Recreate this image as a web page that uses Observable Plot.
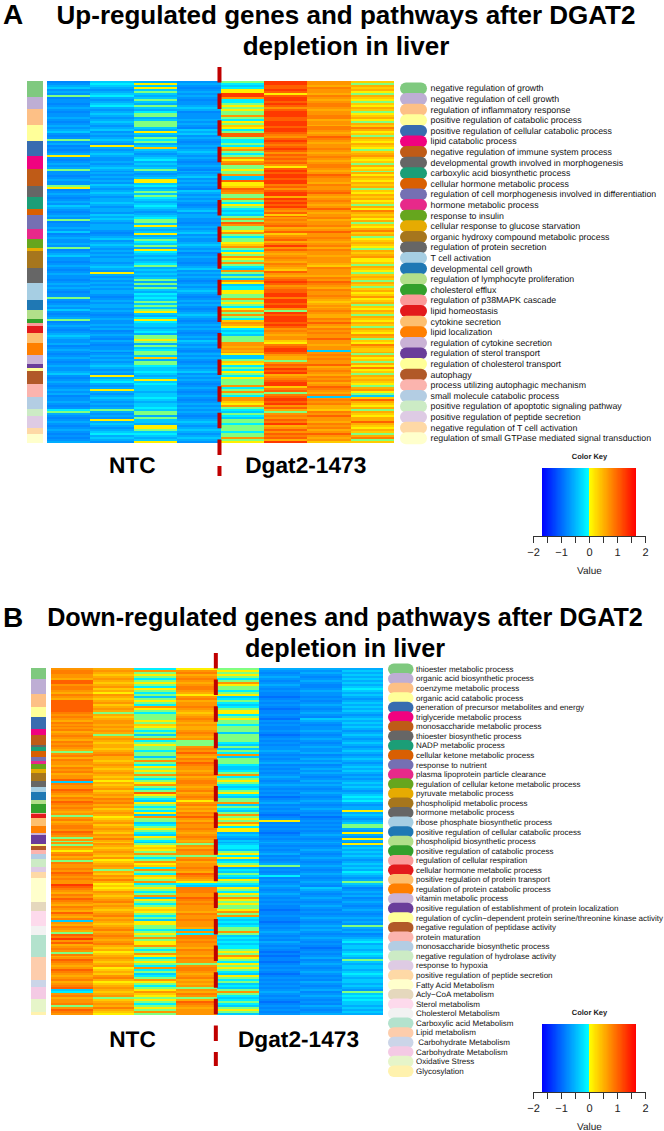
<!DOCTYPE html>
<html>
<head>
<meta charset="utf-8">
<script src="https://cdn.jsdelivr.net/npm/d3@7"></script>
<script src="https://cdn.jsdelivr.net/npm/@observablehq/plot@0.6"></script>
<style>
html,body{margin:0;padding:0;background:#fff;overflow:hidden}
#page{position:relative;width:664px;height:1131px;font-family:"Liberation Sans",Arial,sans-serif;color:#000}
#page>*{position:absolute}
#page svg{background:transparent;max-width:none;text-rendering:geometricPrecision}
.t{font-weight:bold;white-space:nowrap;transform:translateX(-50%);line-height:28px;letter-spacing:0}
.p{font-weight:bold;font-size:28px;line-height:30px}
</style>
</head>
<body>
<div id="page"></div>
<script>
// value codes used by the heat-map strings below, one character per gene row
const codes = "abcdefghijklmn";
const codeValues = [-0.95,-0.8,-0.7,-0.55,-0.35,-0.12,0,0.12,0.35,0.55,0.7,0.85,1.05,1.3];

const palette = ["#7FC97F","#BEAED4","#FDC086","#FFFF99","#386CB0","#F0027F","#BF5B17","#666666",
"#1B9E77","#D95F02","#7570B3","#E7298A","#66A61E","#E6AB02","#A6761D","#666666",
"#A6CEE3","#1F78B4","#B2DF8A","#33A02C","#FB9A99","#E31A1C","#FDBF6F","#FF7F00","#CAB2D6","#6A3D9A","#FFFF99","#B15928",
"#FBB4AE","#B3CDE3","#CCEBC5","#DECBE4","#FED9A6","#FFFFCC","#E5D8BD","#FDDAEC","#F2F2F2",
"#B3E2CD","#FDCDAC","#CBD5E8","#F4CAE4","#E6F5C9","#FFF2AE"];

const upLabels = ["negative regulation of growth","negative regulation of cell growth","regulation of inflammatory response","positive regulation of catabolic process","positive regulation of cellular catabolic process","lipid catabolic process","negative regulation of immune system process","developmental growth involved in morphogenesis","carboxylic acid biosynthetic process","cellular hormone metabolic process","regulation of cell morphogenesis involved in differentiation","hormone metabolic process","response to insulin","cellular response to glucose starvation","organic hydroxy compound metabolic process","regulation of protein secretion","T cell activation","developmental cell growth","regulation of lymphocyte proliferation","cholesterol efflux","regulation of p38MAPK cascade","lipid homeostasis","cytokine secretion","lipid localization","regulation of cytokine secretion","regulation of sterol transport","regulation of cholesterol transport","autophagy","process utilizing autophagic mechanism","small molecule catabolic process","positive regulation of apoptotic signaling pathway","positive regulation of peptide secretion","negative regulation of T cell activation","regulation of small GTPase mediated signal transduction"];
const upSizes = [16.4,11.6,15.7,16.3,14.7,13,17,11.7,11.6,6.4,13.3,10,9.3,3.4,16.3,15.7,16.3,10,9,4,3,7,10,12.7,8.3,4,3.7,13,12.6,11.7,7.7,11.3,6,9.3];

const downLabels = ["thioester metabolic process","organic acid biosynthetic process","coenzyme metabolic process","organic acid catabolic process","generation of precursor metabolites and energy","triglyceride metabolic process","monosaccharide metabolic process","thioester biosynthetic process","NADP metabolic process","cellular ketone metabolic process","response to nutrient","plasma lipoprotein particle clearance","regulation of cellular ketone metabolic process","pyruvate metabolic process","phospholipid metabolic process","hormone metabolic process","ribose phosphate biosynthetic process","positive regulation of cellular catabolic process","phospholipid biosynthetic process","positive regulation of catabolic process","regulation of cellular respiration","cellular hormone metabolic process","positive regulation of protein transport","regulation of protein catabolic process","vitamin metabolic process","positive regulation of establishment of protein localization","regulation of cyclin\u2212dependent protein serine/threonine kinase activity","negative regulation of peptidase activity","protein maturation","monosaccharide biosynthetic process","negative regulation of hydrolase activity","response to hypoxia","positive regulation of peptide secretion","Fatty Acid Metabolism","Acly\u2212CoA metabolism","Sterol metabolism","Cholesterol Metabolism","Carboxylic acid Metabolism","Lipid metabolism","\u00a0Carbohydrate Metabolism","Carbohydrate Metabolism","Oxidative Stress","Glycosylation"];
const downSizes = [10.7,15,13,10,12.7,6,9.6,2,4,6,4,2.7,5,4,8,6,5,8,4.7,8.6,1,3.7,8,7.3,2.4,8.3,2.3,3.7,4,5,8,5,6.3,23.7,9,15,9,22,23,7.3,12,12.7,3.3];

const groupLabels = ["NTC","Dgat2-1473"];
const groupCenters = [2,6];

// up-regulated panel, one string per sample column, read top to bottom
const upN1 = "bcdecdcgbc"+"cbcdcbccdc"+"bcdcdecbcg"+"cdbcbcdhcb"+"cdcdgccbcd"+"ccghbcdcbc"+"dcedcbcdcg"+"bccdcebcdc"+"cdcgbcdecc"+"bcdcbcdccb"+"cdcdcbccgc"+"bcdcecbcdg"+"bcdcbcdedc"+"cdbcdcbcdc"+"bcdccdecbc"+"dcbcdcdbcc"+"dcbcfgdcbc"+"dcbcdcbcbcd";
const upN2 = "efedcdefdc"+"defdcdedcd"+"edcdecdcde"+"dchdcdedcc"+"dcdedcdcdc"+"dcedcdedcd"+"dedcddcede"+"dcdddcbcde"+"cdedcdcdcd"+"dcdedchdcd"+"cdcdcddcbc"+"dcddcdcbcd"+"ccdcdbcdcb"+"dcbccdbcdc"+"dcdedcdchd"+"efdcdhdcde"+"dcdcdgdcdc"+"hdedcdefdedc";
const upN3 = "dhehegedeg"+"edgedfggde"+"gggedhedgf"+"gdeiedcdef"+"dedegdcdeh"+"hefdegegfe"+"defedcdefg"+"gehedehdeg"+"fegdhfeded"+"efgdededeg"+"dgdgedfefe"+"gegeghedfh"+"feedefdggh"+"gdgefggeid"+"ggfeefedeh"+"efeeedeefe"+"deefeggdge"+"edhhgefedeh";
const upN4 = "cdcbcdcdcb"+"ccdedbcccd"+"cdcbedecdc"+"bcdcdedcdc"+"bcdcbdcdec"+"dcdcbedcdc"+"dcbcdecddc"+"cbcdcdecdc"+"cdedcdbcdc"+"cbcdecdcdc"+"bcdcdedcbc"+"dcdcbcdedc"+"bcdcdcbcdc"+"edcdcbcdcd"+"cbcdcdecdc"+"dcbcdcbcdc"+"bcdcdcdcbc"+"dedcdedcdedc";
const upD1 = "gfefhhnnkf"+"fghghggkgf"+"hgihfgmmgf"+"fgfikgfgkh"+"klgghggkee"+"mhhimlkggk"+"gfhgfefegk"+"gmkgghkgfg"+"ghikgfhgkh"+"gkgfekgege"+"kheffhhggk"+"ghgfhkgkgf"+"ikjhfefegg"+"gkkjkjkhee"+"gihfgfhgfh"+"gggkfgkgfk"+"kihkgfegfe"+"ggfgggfggkgh";
const upD2 = "nnmmnmhmnn"+"mnmkmnnnmm"+"nnnmnnmlkm"+"nmlmnmkmlm"+"lmkhmnmnnm"+"nnlmkmnnjn"+"mnmnlkmimk"+"lklmjkmikl"+"mjlnkmkjkl"+"kjlkjimkjl"+"mnmklmmnnl"+"nnmnnkgnmn"+"nnmnmklkjk"+"kihlmnnmkj"+"jgkmlnmnjk"+"lmnnilmglm"+"nnmnkmjgkl"+"kmlnjkmkmlmjn";
const upD3 = "kkjlkkjlkj"+"kllkjkkllj"+"kkjllkjkml"+"kjkklkjklk"+"jkllkjkmlk"+"kjlkklmkjk"+"lkjkmkjkkl"+"jkkljkmkkl"+"kjkljlkkjk"+"kkjilkkkjl"+"kmlkjlkklk"+"jijkjklkjj"+"lkmkjlklkk"+"mkkjkkeklk"+"lkkmjklkjl"+"kljkmlkjle"+"klkljjilkm"+"kkjlkljkmkjki";
const upD4 = "igjijhgjih"+"gihjighijh"+"gjiljhigji"+"hjihgijkih"+"igjhigjhji"+"hjijgihjij"+"higjhljijh"+"jgihjlijgh"+"ijihgjijkh"+"higjihgiji"+"gjigijhikh"+"ijgihjigji"+"hjigjihkjg"+"ihljiijgjh"+"igjhlhigji"+"jihgjkhgei"+"mjihjgjihj"+"jmjihjigjlgi";

// down-regulated panel
const dnN1 = "kllkkjmmkl"+"lkjlkjmmmm"+"mmlklkjlkl"+"kljklkjlkl"+"kjgkljlkkj"+"lkljkkmelk"+"kmlkjlkmlk"+"lkjkgkljkl"+"lkmlkgkgkg"+"kjhkljkglk"+"klkmlklkkn"+"mlkjlkmlkj"+"lkjmkjlekj"+"lkjgmlnkmj"+"klkgljkmlk"+"jkmlkjkljk"+"lmefkljkkl"+"gkmlk";
const dnN2 = "jkjijkjijk"+"ijhkjijkij"+"kjgjijkkjk"+"jkjgjkjijj"+"ijkljjijkj"+"ijkjijhjij"+"kijkjlkljk"+"ijkjhijkij"+"kjikjljikj"+"ijkjikhijk"+"jgjikjljhi"+"hikjijkljk"+"jijkljkjij"+"kljklkjklj"+"ijhijkjijk"+"hijikljhij"+"kjijkgijkj"+"ljih";
const dnN3 = "fkghgfghgf"+"hgfgeghgfk"+"hgfggghgih"+"gfgegkfghg"+"gfggegkgfh"+"ghgkgfghkg"+"fgmhgfehgf"+"gfhekggefg"+"hgfehgfegh"+"ihgkgfgkhi"+"fkgfihgkfg"+"hgfgkehgfg"+"hihgfgehhg"+"gfghgkghhk"+"gfgkhfghgf"+"kfgefgkhgf"+"ghkihghgfg"+"hgkg";
const dnN4 = "hkljklkjkl"+"lkjhkljkkl"+"kjijklkjkj"+"jklkjkgggk"+"lkmkjlkmlk"+"kjkljkllkj"+"kljklkhklj"+"kjlkmkjlkk"+"lkjklkjkgk"+"jlkkgkljkk"+"lkjmlkjhfe"+"lllkkmlklk"+"kkjlkklkkk"+"jekfllklkk"+"jlkkjlkkgk"+"llkjkljkjk"+"gkjlkgjmlk"+"jkkk";
const dnD1 = "ghghgfgkhg"+"gfghefgfef"+"ghhfghggfg"+"ggeggggfeg"+"egfkegggfe"+"efgkfghgfe"+"fghfeggkeg"+"fegkghgkhf"+"hhdedcedef"+"feghfhefgh"+"dfegfehgfe"+"hgfhgkhghg"+"ghkgkfefef"+"ggkgefefef"+"fghgkhgfhg"+"hgfehgfgef"+"egkgfefgfe"+"ghge";
const dnD2 = "dcbcdcbcdc"+"bcbbabcbcb"+"abbcbacbcb"+"bcbabcbcbc"+"cdcbcbcdbc"+"bcbcdcbcdc"+"bcbcabcdbc"+"bcbabchbcb"+"cbabcbcdcb"+"cbcdbcbcdg"+"bcbcfbcbcd"+"cbcdcbcbcb"+"babbcbbabc"+"bcdcbcbdcb"+"cbababbabc"+"bcbabcbcbc"+"bcdcbcbabc"+"bcbc";
const dnD3 = "dcdcbcdcbb"+"cdccbcbcdc"+"bcdcbedcbc"+"cdcbcdcbcd"+"ccdbcdcdbc"+"dcdcbcdcdc"+"bcdcbcdcbc"+"dcbcabcbcb"+"cbcdcbcdcb"+"cdcbcdcbcd"+"cbcdcbcdcb"+"edcbcdcbcd"+"cbcbcdcbcd"+"cdcbcdcbcb"+"abcbcdbcdc"+"bcdcbcbdcb"+"cdbcdcbcbd"+"cbcd";
const dnD4 = "dedededede"+"fededcdede"+"dedcdedede"+"dcdedcdedc"+"dedcdedcde"+"dedcdcdede"+"dcdefefdcd"+"dhdedcdegg"+"dchdchdchd"+"edededcded"+"edfedcdged"+"bcdcdbcdcb"+"cdcbcdcdcg"+"dcdbcdefde"+"edefedgede"+"edefedeede"+"dcgefefeed"+"eded";

const keyTicks = [-2,-1.5,-1,-0.5,0,0.5,1,1.5,2];
const keyLimit = 1.67;

const colorScale = {type:"linear",domain:[-keyLimit,-0.015,0.015,keyLimit],range:["#0000ff","#00ffff","#ffff00","#ff0000"],interpolate:"rgb"};
const font = '"Liberation Sans",Arial,sans-serif';
const page = document.getElementById("page");

function place(node,left,top){node.style.left=left+"px";node.style.top=top+"px";page.appendChild(node);}
function html(cls,text,left,top,size){const d=document.createElement("div");d.className=cls;d.textContent=text;if(size)d.style.fontSize=size+"px";place(d,left,top);}

function cellsOf(columns){
  return columns.flatMap((s,c)=>Array.from(s,(ch,i)=>({
    x1:c,x2:c+1,y1:i/s.length,y2:(i+1)/s.length,v:codeValues[codes.indexOf(ch)]})));
}

function heatmap(columns,o){
  const cells=cellsOf(columns);
  const groups=groupLabels.map((label,i)=>({label,x:groupCenters[i]}));
  const svg=Plot.plot({
    width:o.right-o.left+o.pad*2,height:o.bottom-o.top+o.above+o.below,
    marginLeft:o.pad,marginRight:o.pad,marginTop:o.above,marginBottom:o.below,
    x:{domain:[0,columns.length],axis:null},
    y:{domain:[0,1],reverse:true,axis:null},
    color:colorScale,
    style:{background:"transparent",overflow:"visible"},
    marks:[
      Plot.rect(cells,{x1:"x1",x2:"x2",y1:"y1",y2:"y2",fill:"v",shapeRendering:"crispEdges",imageFilter:"blur(0.55px)"}),
      Plot.ruleX([o.split],{y1:0,y2:1,insetTop:-o.ruleTop,insetBottom:-o.ruleBottom,stroke:"#c00000",strokeWidth:4,strokeDasharray:"15.5,11.1"}),
      Plot.text(groups,{x:"x",y:1,dy:o.labelDy,dx:-2,text:"label",fontSize:22.7,fontWeight:"bold",fontFamily:font,fill:"#000"})
    ]
  });
  place(svg,o.left-o.pad,o.top-o.above);
}

function sidebar(sizes,left,top,width,height){
  const rows=sizes.map((n,i)=>({n,color:palette[i]}));
  const svg=Plot.plot({
    width,height,margin:0,
    x:{domain:[0,1],axis:null},
    y:{domain:[d3.sum(sizes),0],axis:null},
    marks:[Plot.rectY(rows,Plot.stackY({x1:0,x2:1,y:"n",fill:"color",order:null,shapeRendering:"crispEdges"}))]
  });
  place(svg,left,top);
}

function legend(labels,left,firstY,step,pillW,pillH,fontSize,gap){
  const rows=labels.map((label,i)=>({label,i,color:palette[i]}));
  const lastOff=step*(labels.length-1);
  const svg=Plot.plot({
    width:664-left,height:lastOff+pillH+2,margin:0,
    x:{domain:[0,1],range:[pillH/2,pillW-pillH/2],axis:null},
    y:{domain:[0,labels.length-1],range:[pillH/2+1,lastOff+pillH/2+1],axis:null},
    style:{background:"transparent"},
    marks:[
      Plot.ruleY(rows,{y:"i",x1:0,x2:1,stroke:"color",strokeWidth:pillH,strokeLinecap:"round"}),
      Plot.text(rows,{x:()=>1,y:"i",dx:pillH/2+gap,text:"label",textAnchor:"start",fontSize,fontFamily:font,fill:"#111"})
    ]
  });
  place(svg,left,firstY-pillH/2-1);
}

function colorKey(top){
  const steps=d3.range(-keyLimit,keyLimit,0.02).map(a=>({a,b:a+0.025,v:a+0.01}));
  const svg=Plot.plot({
    width:144,height:130,marginLeft:13,marginRight:19,marginTop:23,marginBottom:39,
    x:{domain:[-2,2],axis:null},
    y:{domain:[0,1],axis:null},
    color:colorScale,
    style:{background:"transparent",overflow:"visible"},
    marks:[
      Plot.rect(steps,{x1:"a",x2:"b",y1:0,y2:1,fill:"v",shapeRendering:"crispEdges"}),
      Plot.ruleY([0],{x1:-2,x2:2,stroke:"#333"}),
      Plot.axisX({ticks:keyTicks,tickSize:7,tickPadding:5,stroke:"#333",fill:"#222",fontSize:11,fontFamily:font,label:null,
        tickFormat:d=>Number.isInteger(d)?(d<0?"\u2212"+(-d):String(d)):""}),
      Plot.text(["Value"],{x:0,y:0,dy:34,fontSize:10,fontFamily:font,fill:"#222"}),
      Plot.text(["Color Key"],{x:0,y:1,dy:-12,fontSize:7.5,fontWeight:"bold",fontFamily:font,fill:"#222"})
    ]
  });
  place(svg,520,top);
}

// panel A
html("p","A",3,0);
html("t","Up-regulated genes and pathways after DGAT2",346,1,26);
html("t","depletion in liver",346,32,26);
sidebar(upSizes,27,81,16,362);
heatmap([upN1,upN2,upN3,upN4,upD1,upD2,upD3,upD4],{left:47,right:394,top:81,bottom:443,pad:4,above:16,below:40,split:3.965,ruleTop:14,ruleBottom:33,labelDy:22});
legend(upLabels,400,88,10.6,27,12,8.8,3);
colorKey(445);

// panel B
html("p","B",3,603);
html("t","Down-regulated genes and pathways after DGAT2",345,603,25.2);
html("t","depletion in liver",345,634,25.2);
sidebar(downSizes,31,668,15,347);
heatmap([dnN1,dnN2,dnN3,dnN4,dnD1,dnD2,dnD3,dnD4],{left:51,right:383,top:668,bottom:1015,pad:4,above:16,below:56,split:3.96,ruleTop:15,ruleBottom:51,labelDy:24});
legend(downLabels,388,669,9.57,25.5,11.5,8,2);
colorKey(1001);
</script>
</body>
</html>
